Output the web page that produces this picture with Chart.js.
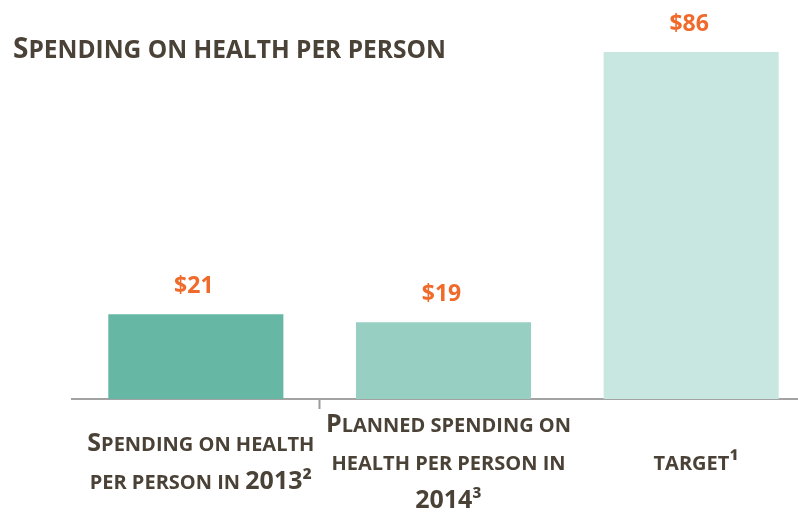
<!DOCTYPE html>
<html>
<head>
<meta charset="utf-8">
<script src="https://cdn.jsdelivr.net/npm/chart.js@4.4.1/dist/chart.umd.min.js"></script>
<style>
  html, body { margin: 0; padding: 0; background: #fff; overflow: hidden; }
  canvas { display: block; }
</style>
</head>
<body>
<canvas id="healthChart" width="830" height="512"></canvas>
<script>
// chart data
const chartTitle = 'Spending on health per person';
const categories = [
  ['Spending on health', 'per person in 2013²'],
  ['Planned spending on', 'health per person in', '2014³'],
  ['target¹']
];
const values = [21, 19, 86];
const valueLabels = ['$21', '$19', '$86'];
const barColors = ['#67b7a5', '#97cfc2', '#c8e7e0'];

const TEXT_COLOR = '#4b4237';
const VALUE_COLOR = '#ef6a2b';
const FONT = '"Open Sans", sans-serif';

// draws text as small caps: capitals and digits big, lower case as smaller capitals
function drawSmallCaps(ctx, text, x, y, bigSize, smallSize, align) {
  const runs = [];
  for (const ch of text) {
    const small = ch === ' ' || ch !== ch.toUpperCase();
    const size = small ? smallSize : bigSize;
    const last = runs[runs.length - 1];
    if (last && last.size === size) last.text += ch.toUpperCase();
    else runs.push({ text: ch.toUpperCase(), size: size });
  }
  let total = 0;
  runs.forEach(r => {
    ctx.font = `bold ${r.size}px ${FONT}`;
    r.width = ctx.measureText(r.text).width;
    total += r.width;
  });
  let cx = align === 'center' ? x - total / 2 : x;
  ctx.textAlign = 'left';
  ctx.textBaseline = 'alphabetic';
  runs.forEach(r => {
    ctx.font = `bold ${r.size}px ${FONT}`;
    ctx.fillText(r.text, cx, y);
    cx += r.width;
  });
}

// title + category labels + value labels
const textPlugin = {
  id: 'textPlugin',
  afterDraw(chart) {
    const ctx = chart.ctx;
    ctx.save();
    ctx.fillStyle = TEXT_COLOR;
    drawSmallCaps(ctx, chartTitle, 13, 58, 28, 24.5, 'left');

    const xScale = chart.scales.x;
    const lineH = 38;
    categories.forEach((lines, i) => {
      const cx = xScale.getPixelForTick(i) + 5;
      lines.forEach((line, j) => {
        const y = 470 + (j - (lines.length - 1) / 2) * lineH;
        drawSmallCaps(ctx, line, cx, y, 25, 20, 'center');
      });
    });

    const meta = chart.getDatasetMeta(0);
    ctx.fillStyle = VALUE_COLOR;
    ctx.font = `bold 23px ${FONT}`;
    ctx.textAlign = 'center';
    ctx.textBaseline = 'alphabetic';
    meta.data.forEach((bar, i) => {
      ctx.fillText(valueLabels[i], bar.x - 2, bar.y - 21);
    });
    ctx.restore();
  }
};

new Chart(document.getElementById('healthChart'), {
  type: 'bar',
  data: {
    labels: categories,
    datasets: [{
      data: values,
      backgroundColor: barColors,
      borderWidth: 0,
      barPercentage: 0.707,
      categoryPercentage: 1
    }]
  },
  options: {
    responsive: false,
    animation: false,
    layout: { padding: { left: 72, right: 15, top: 52, bottom: 103 } },
    plugins: {
      legend: { display: false },
      tooltip: { enabled: false },
      title: { display: false }
    },
    scales: {
      x: {
        ticks: { display: false },
        grid: {
          drawOnChartArea: false,
          drawTicks: true,
          tickLength: 10,
          tickWidth: 2,
          tickColor: (c) => c.index === 1 ? '#9b9b9b' : 'rgba(0,0,0,0)'
        },
        border: { display: true, color: '#a3a3a3', width: 2 }
      },
      y: {
        display: false,
        min: 0,
        max: 86
      }
    }
  },
  plugins: [textPlugin]
});
</script>
</body>
</html>
